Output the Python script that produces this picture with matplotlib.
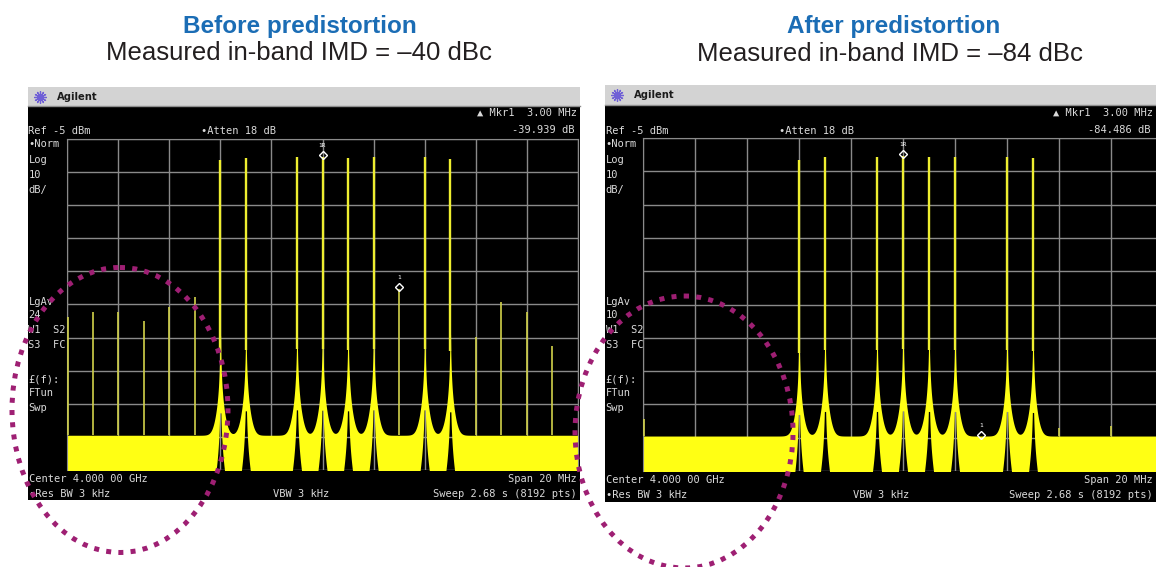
import numpy as np
import matplotlib.pyplot as plt
from matplotlib.patches import Rectangle, Ellipse

W, H = 1156, 567

# tone offsets from the 4 GHz centre (MHz) and their levels (dBm)
tone_mhz = [-4, -3, -1, 0, 1, 2, 4, 5]
before_tone_dbm = [-11.3, -10.7, -10.4, -10.5, -10.7, -10.4, -10.4, -11.0]
after_tone_dbm = [-11.6, -10.7, -10.7, -10.5, -10.7, -10.7, -10.7, -11.0]

# intermodulation products / spurs
before_imd_mhz = [-9.95, -9, -8, -7, -6, -5, 3, 6, 7, 8, 9]
before_imd_dbm = [-58.8, -57.3, -57.3, -60.0, -55.8, -52.7, -50.4, -64.8, -54.2, -57.3, -67.5]
after_imd_mhz = [-9.95, 6, 8]
after_imd_dbm = [-89.5, -92.0, -91.5]

noise_top_dbm = -94.5
ref_dbm = -5
bottom_dbm = -105
marker_mhz = 3
before_delta_db = -39.939
after_delta_db = -84.486

YELLOW = '#ffff14'
TXT = '#dadada'
MONO = 'DejaVu Sans Mono'

fig = plt.figure(figsize=(W / 100, H / 100), dpi=100)
fig.patch.set_facecolor('white')

back = fig.add_axes([0, 0, 1, 1])
back.set_xlim(0, W)
back.set_ylim(H, 0)
back.set_axis_off()

front = fig.add_axes([0, 0, 1, 1])
front.set_xlim(0, W)
front.set_ylim(H, 0)
front.set_axis_off()
front.set_zorder(10)

freq = np.linspace(-10, 10, 8192)


def skirt_drop(d):
    # dB below the tone peak at offset d (MHz)
    return 67 + 20 * np.log10(d / 0.06) + 40 * d ** 2


def envelopes(levels):
    # analyser trace drawn as min/max per column: tone skirts over a flat noise floor
    d = np.abs(freq[:, None] - np.array(tone_mhz)[None, :])
    lv = np.array(levels)[None, :]
    up = lv - skirt_drop(np.maximum(d, 0.012))
    lo = lv - skirt_drop(np.maximum(d, 0.025))
    upper = 10 * np.log10((10 ** (up / 10)).sum(1) + 10 ** (noise_top_dbm / 10))
    lower = 10 * np.log10((10 ** (lo / 10)).sum(1)) - 17
    return np.clip(lower, bottom_dbm - 1, None), upper


def draw_panel(sx0, sx1, hy0, hy1, sy1, gx0, gw, gy0, gh, levels, imd_f, imd_p,
               delta, lgav, logo_x):
    # screen + header
    back.add_patch(Rectangle((sx0, hy0), sx1 - sx0, hy1 - hy0, fc='#d3d3d3', ec='none'))
    back.plot([sx0, sx1], [hy1, hy1], color='#8e8e8e', lw=1)
    back.add_patch(Rectangle((sx0, hy1), sx1 - sx0, sy1 - hy1, fc='black', ec='none'))
    back.plot(logo_x, (hy0 + hy1) / 2, marker=(12, 2, 0), ms=9, mew=0.9, color='#6f5fd6')
    back.text(logo_x + 17, (hy0 + hy1) / 2, 'Agilent', fontsize=7.2, fontweight='bold',
              color='#1c1c1c', va='center')

    gx1 = gx0 + gw
    xr = min(gx1, W - 2)
    div = gw / 10
    kw = dict(family=MONO, fontsize=7.5, color=TXT, va='center')
    back.text(sx0 + 0.5, 131, 'Ref -5 dBm', **kw)
    back.text(gx0 + 2.62 * div, 131, '\u2022Atten 18 dB', **kw)
    back.text(xr - 1, 113, '\u25b2 Mkr1  3.00 MHz', ha='right', **kw)
    back.text(xr - 3, 130, f'{delta:.3f} dB', ha='right', **kw)
    back.text(xr - 2, 188, 'Ext Ref', ha='right', **kw)
    for y, s in zip([144, 160, 175, 190], ['\u2022Norm', 'Log', '10', 'dB/']):
        back.text(sx0 + 0.5, y, s, **kw)
    for y, s in zip([302, 315, 330, 345, 379, 393, 408],
                    ['LgAv', lgav, 'W1  S2', 'S3  FC', '\u00a3(f):', 'FTun', 'Swp']):
        back.text(sx0 + 0.5, y, s, **kw)
    back.text(sx0 + 1, gy0 + gh + 9, 'Center 4.000 00 GHz', **kw)
    back.text(sx0 + 1, gy0 + gh + 24, '\u2022Res BW 3 kHz', **kw)
    back.text(gx0 + 4.04 * div, gy0 + gh + 24, 'VBW 3 kHz', **kw)
    back.text(xr - 1, gy0 + gh + 9, 'Span 20 MHz', ha='right', **kw)
    back.text(xr - 1, gy0 + gh + 24, 'Sweep 2.68 s (8192 pts)', ha='right', **kw)

    # spectrum graticule
    ax = fig.add_axes([gx0 / W, 1 - (gy0 + gh) / H, gw / W, gh / H])
    ax.set_zorder(5)
    ax.set_facecolor('black')
    ax.set_xlim(-10, 10)
    ax.set_ylim(bottom_dbm, ref_dbm)
    ax.set_xticks(np.arange(-10, 11, 2))
    ax.set_yticks(np.arange(bottom_dbm, ref_dbm + 1, 10))
    ax.tick_params(length=0, labelbottom=False, labelleft=False)
    ax.grid(True, color='#8a8a8a', lw=1)
    ax.set_axisbelow(True)
    for side in ['left', 'right', 'top']:
        ax.spines[side].set_color('#8a8a8a')
    ax.spines['bottom'].set_visible(False)

    lower, upper = envelopes(levels)
    ax.fill_between(freq, lower, upper, color=YELLOW, lw=0, zorder=2)
    ax.vlines(tone_mhz, np.array(levels) - 58, levels, color='#eeee30', lw=1.7, zorder=3)
    ax.vlines(imd_f, noise_top_dbm, imd_p, color='#d2d24a', lw=1.2, zorder=3)

    # markers
    ref_level = levels[tone_mhz.index(0)]
    ax.plot(0, ref_level + 0.8, 'D', ms=4.2, mfc='none', mec='white', mew=1.0, zorder=6)
    ax.annotate('1R', (0, ref_level), xytext=(0, 7.5), textcoords='offset points',
                ha='center', fontsize=4.5, color='white', family=MONO)
    m_level = ref_level + delta
    ax.plot(marker_mhz, m_level + 0.8, 'D', ms=4.2, mfc='none', mec='white', mew=1.0, zorder=6)
    ax.annotate('1', (marker_mhz, m_level), xytext=(0, 7.5), textcoords='offset points',
                ha='center', fontsize=4.5, color='white', family=MONO)
    return ax


draw_panel(28, 580, 87, 106, 500, 67, 511, 139, 331, before_tone_dbm,
           before_imd_mhz, before_imd_dbm, before_delta_db, '24', 40)
draw_panel(605, 1170, 85, 105, 502, 643, 520, 138, 333, after_tone_dbm,
           after_imd_mhz, after_imd_dbm, after_delta_db, '10', 617)

# titles
title_kw = dict(family=['Liberation Sans', 'DejaVu Sans'], ha='center', va='baseline')
front.text(300, 33, 'Before predistortion', fontsize=17.5, fontweight='bold',
           color='#1b6db5', **title_kw)
front.text(299, 60, 'Measured in-band IMD = \u201340 dBc', fontsize=18.5,
           color='#231f20', **title_kw)
front.text(894, 33, 'After predistortion', fontsize=17.5, fontweight='bold',
           color='#1b6db5', **title_kw)
front.text(890, 61, 'Measured in-band IMD = \u201384 dBc', fontsize=18.5,
           color='#231f20', **title_kw)

# dotted highlight ellipses
for c, w, h in [((120, 410), 216, 285), ((684, 432), 218, 272)]:
    front.add_patch(Ellipse(c, w, h, fill=False, ec='#9e1f73', lw=3.6,
                            ls=(0, (1, 1.45)), capstyle='butt'))

fig.savefig('out.png', dpi=100)
